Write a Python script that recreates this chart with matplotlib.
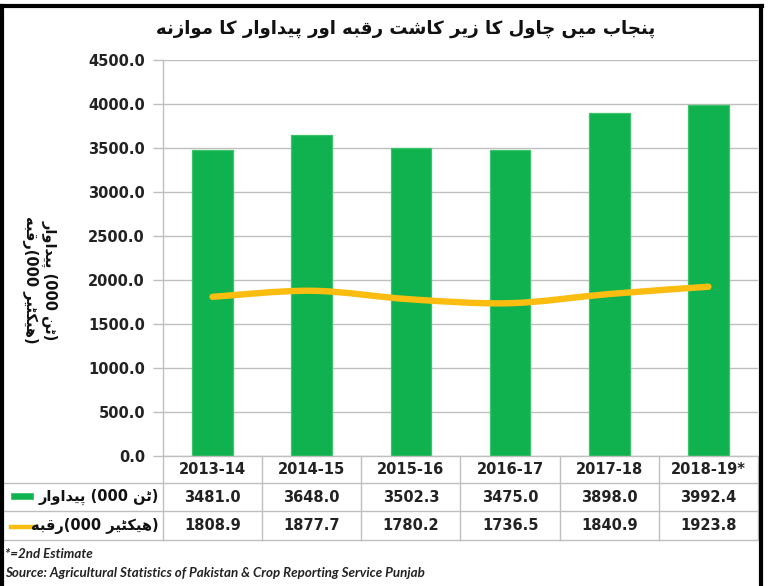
import matplotlib
matplotlib.use("Agg")
import matplotlib.pyplot as plt
from matplotlib.path import Path
from matplotlib.patches import PathPatch, Rectangle
from matplotlib.lines import Line2D
import matplotlib.transforms as mtransforms
import numpy as np

# ---------------- data ----------------
years = ["2013-14", "2014-15", "2015-16", "2016-17", "2017-18", "2018-19*"]
production = [3481.0, 3648.0, 3502.3, 3475.0, 3898.0, 3992.4]   # 000 tonnes
area = [1808.9, 1877.7, 1780.2, 1736.5, 1840.9, 1923.8]         # 000 hectares
yticks = [0, 500, 1000, 1500, 2000, 2500, 3000, 3500, 4000, 4500]

title_words = ["پنجاب", "میں", "چاول", "کا", "زیر", "کاشت", "رقبہ", "اور", "پیداوار", "کا", "موازنہ"]
prod_word, prod_unit = "پیداوار", "ٹن"
area_word, area_unit = "رقبہ", "ہیکٹیر"
note_text = "*=2nd Estimate"
source_text = "Source: Agricultural Statistics of Pakistan & Crop Reporting Service Punjab"

# ---------------- simple Arabic/Urdu shaping (visual order) ----------------
DUAL = {'ب': (0xFE8F, 0xFE90, 0xFE91, 0xFE92), 'پ': (0xFB56, 0xFB57, 0xFB58, 0xFB59),
        'ت': (0xFE95, 0xFE96, 0xFE97, 0xFE98), 'ٹ': (0xFB66, 0xFB67, 0xFB68, 0xFB69),
        'ج': (0xFE9D, 0xFE9E, 0xFE9F, 0xFEA0), 'چ': (0xFB7A, 0xFB7B, 0xFB7C, 0xFB7D),
        'ش': (0xFEB5, 0xFEB6, 0xFEB7, 0xFEB8), 'ق': (0xFED5, 0xFED6, 0xFED7, 0xFED8),
        'ک': (0xFB8E, 0xFB8F, 0xFB90, 0xFB91), 'ل': (0xFEDD, 0xFEDE, 0xFEDF, 0xFEE0),
        'م': (0xFEE1, 0xFEE2, 0xFEE3, 0xFEE4), 'ن': (0xFEE5, 0xFEE6, 0xFEE7, 0xFEE8),
        'ی': (0xFBFC, 0xFBFD, 0xFBFE, 0xFBFF), 'ہ': (0xFEE9, 0xFEEA, 0xFEEB, 0xFEEC)}
RIGHT = {'ا': (0xFE8D, 0xFE8E), 'د': (0xFEA9, 0xFEAA), 'ر': (0xFEAD, 0xFEAE),
         'ز': (0xFEAF, 0xFEB0), 'و': (0xFEED, 0xFEEE), 'ں': (0xFB9E, 0xFB9F)}


def shape(word):
    out = []
    for i, c in enumerate(word):
        prev = word[i - 1] if i > 0 else None
        nxt = word[i + 1] if i + 1 < len(word) else None
        joinable = c in DUAL or c in RIGHT
        jp = prev in DUAL and joinable
        jn = c in DUAL and nxt is not None and (nxt in DUAL or nxt in RIGHT)
        if c in DUAL:
            f = DUAL[c]
            idx = 3 if (jp and jn) else 1 if jp else 2 if jn else 0
            out.append(chr(f[idx]))
        elif c in RIGHT:
            out.append(chr(RIGHT[c][1 if jp else 0]))
        else:
            out.append(c)
    return "".join(reversed(out))


title_vis = " ".join(shape(w) for w in reversed(title_words))
prod_label = shape(prod_word) + " (000 " + shape(prod_unit) + ")"
area_label = shape(area_word) + "(000 " + shape(area_unit) + ")"

# ---------------- figure ----------------
W, H = 770, 586
fig = plt.figure(figsize=(W / 100, H / 100), dpi=100)
fig.patch.set_facecolor("white")

def fx(px):
    return px / W

def fy(py):
    return 1 - py / H

x0, x1, ytop, ybot = 163, 758, 60, 456
ax = fig.add_axes([fx(x0), fy(ybot), fx(x1 - x0), (ybot - ytop) / H])

FONT = ["DejaVu Sans"]
grid_c = "#bfbfbf"
green = "#0fb24e"
gold = "#fbbd0f"

xs = np.arange(len(years))
ax.bar(xs, production, width=0.41, color=green, edgecolor="#3cc46a", linewidth=0.9, zorder=2)

# smoothed line (Bezier path through the data points, Excel-like smoothing)
pts = np.column_stack([xs, area]).astype(float)
verts = [tuple(pts[0])]
codes = [Path.MOVETO]
n = len(pts)
for i in range(n - 1):
    p0 = pts[i - 1] if i > 0 else pts[i]
    p1 = pts[i]
    p2 = pts[i + 1]
    p3 = pts[i + 2] if i + 2 < n else pts[i + 1]
    c1 = p1 + (p2 - p0) / 6.0
    c2 = p2 - (p3 - p1) / 6.0
    verts += [tuple(c1), tuple(c2), tuple(p2)]
    codes += [Path.CURVE4] * 3
ax.add_patch(PathPatch(Path(verts, codes), facecolor="none", edgecolor=gold,
                       linewidth=4.6, capstyle="round", joinstyle="round", zorder=3))

ax.set_xlim(-0.5, len(years) - 0.5)
ax.set_ylim(0, 4500)
ax.set_yticks(yticks)
ax.set_yticklabels([f"{v:.1f}" for v in yticks], fontsize=10.5, fontweight="bold",
                   family=FONT, color="#222222")
ax.set_xticks([])
ax.yaxis.grid(True, color=grid_c, linewidth=1.0, zorder=0)
ax.set_axisbelow(True)
ax.tick_params(axis="y", length=7, width=1.0, color=grid_c, pad=6)
for s in ["top", "right"]:
    ax.spines[s].set_visible(False)
ax.spines["left"].set_color(grid_c)
ax.spines["bottom"].set_color(grid_c)
ax.spines["left"].set_linewidth(1.0)
ax.spines["bottom"].set_linewidth(1.0)

# ---------------- data table under the axis ----------------
axh = ybot - ytop
def ay(py):
    return (ybot - py) / axh

blend = mtransforms.blended_transform_factory(ax.transData, ax.transAxes)
row_y = [469.5, 497, 525.5]
line_y = [482.5, 511, 540]
left_ax = (4 - x0) / (x1 - x0)

for i, yr in enumerate(years):
    ax.text(i, ay(row_y[0]), yr, transform=blend, ha="center", va="center",
            fontsize=10.5, fontweight="bold", family=FONT, color="#222222", clip_on=False)
    ax.text(i, ay(row_y[1]), f"{production[i]:.1f}", transform=blend, ha="center", va="center",
            fontsize=10.5, fontweight="bold", family=FONT, color="#222222", clip_on=False)
    ax.text(i, ay(row_y[2]), f"{area[i]:.1f}", transform=blend, ha="center", va="center",
            fontsize=10.5, fontweight="bold", family=FONT, color="#222222", clip_on=False)

for i in range(len(years) + 1):
    ax.add_line(Line2D([i - 0.5, i - 0.5], [0, ay(line_y[-1])], transform=blend,
                       color=grid_c, linewidth=1.0, clip_on=False))
for ly in line_y:
    ax.add_line(Line2D([left_ax, 1], [ay(ly), ay(ly)], transform=ax.transAxes,
                       color=grid_c, linewidth=1.0, clip_on=False))

# row labels with legend keys
fig.text(fx(159), fy(row_y[1]), prod_label, ha="right", va="center", fontsize=10.5,
         fontweight="bold", family=FONT, color="#111111")
fig.text(fx(159), fy(row_y[2]), area_label, ha="right", va="center", fontsize=10.5,
         fontweight="bold", family=FONT, color="#111111")
fig.patches.append(Rectangle((fx(11), fy(499)), fx(22), 6 / H, transform=fig.transFigure,
                             facecolor=green, edgecolor="#3cc46a", linewidth=0.6))
fig.lines.append(Line2D([fx(11), fx(34)], [fy(527), fy(527)], transform=fig.transFigure,
                        color=gold, linewidth=3.2))

# ---------------- titles and notes ----------------
fig.text(fx(406), fy(29), title_vis, ha="center", va="center", fontsize=13.1,
         fontweight="bold", family=FONT, color="#111111")
fig.text(fx(40), fy(280), prod_label + "\n" + area_label, rotation=-90, ha="center", va="center",
         fontsize=10.5, fontweight="bold", family=FONT, color="#111111", linespacing=1.35,
         multialignment="center")
fig.text(fx(5), fy(554), note_text, ha="left", va="center", fontsize=9.6, fontweight="bold",
         style="italic", family=["Lato", "DejaVu Sans"], color="#222222")
fig.text(fx(5), fy(573), source_text, ha="left", va="center", fontsize=9.6, fontweight="bold",
         style="italic", family=["Lato", "DejaVu Sans"], color="#222222")

# ---------------- outer frame ----------------
fig.lines.append(Line2D([fx(2), fx(2)], [fy(6), 0], transform=fig.transFigure, color="black", linewidth=3))
fig.lines.append(Line2D([fx(1), fx(762)], [fy(6), fy(6)], transform=fig.transFigure, color="black", linewidth=3))
fig.lines.append(Line2D([fx(761), fx(761)], [fy(6), 0], transform=fig.transFigure, color="black", linewidth=3))

fig.savefig("out.png", dpi=100, facecolor="white")
